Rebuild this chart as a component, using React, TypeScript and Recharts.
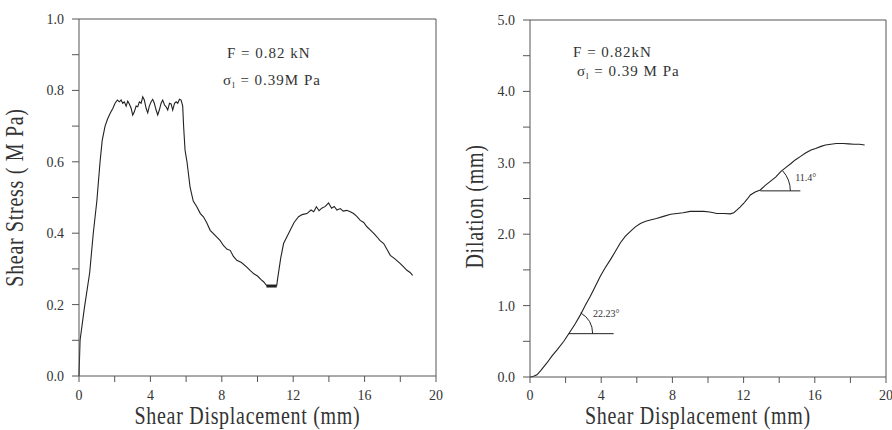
import React from "react";
import { LineChart, Line, XAxis, YAxis, ReferenceLine, ReferenceDot } from "recharts";

const SERIF = "'Liberation Serif', 'DejaVu Serif', serif";

// left panel: shear stress vs shear displacement
const stressX = [
  0, 0.06, 0.3, 0.6, 0.8, 1.0, 1.18, 1.3, 1.46, 1.6, 1.74, 1.9,
  2.02, 2.15, 2.26, 2.36, 2.45, 2.54, 2.64, 2.73, 2.82, 2.92, 3.01, 3.1, 3.2, 3.29, 3.38, 3.48,
  3.57, 3.66, 3.76, 3.85, 3.94, 4.04, 4.13, 4.22, 4.32, 4.41, 4.5, 4.6, 4.69, 4.79, 4.88, 4.97,
  5.07, 5.16, 5.25, 5.35, 5.44, 5.53, 5.63, 5.72, 5.81,
  5.86, 5.94, 6.05, 6.22, 6.4, 6.6, 6.8, 6.97, 7.15, 7.35, 7.6, 7.9, 8.1, 8.3, 8.47, 8.65, 8.84,
  9.1, 9.4, 9.6, 9.78, 10.0, 10.2, 10.34, 10.5, 10.8, 11.08,
  11.12, 11.3, 11.46, 11.65, 11.83, 12.05, 12.3, 12.5, 12.77, 13.0, 13.15, 13.3, 13.45, 13.6,
  13.8, 13.98, 14.15, 14.3, 14.45, 14.64, 14.8, 15.0, 15.2, 15.38, 15.55, 15.76, 15.95, 16.13,
  16.3, 16.5, 16.69, 16.85, 17.07, 17.25, 17.44, 17.7, 18.0, 18.2, 18.37, 18.55, 18.69,
];
const stressY = [
  0, 0.1, 0.19, 0.29, 0.4, 0.49, 0.6, 0.66, 0.7, 0.72, 0.735, 0.75,
  0.764, 0.773, 0.768, 0.773, 0.764, 0.768, 0.756, 0.77, 0.762, 0.75, 0.731, 0.74, 0.756, 0.754, 0.768, 0.764,
  0.782, 0.773, 0.75, 0.737, 0.756, 0.768, 0.775, 0.764, 0.745, 0.731, 0.745, 0.764, 0.773, 0.759, 0.754, 0.745,
  0.764, 0.762, 0.745, 0.764, 0.768, 0.764, 0.775, 0.773, 0.756,
  0.7, 0.633, 0.6, 0.53, 0.49, 0.474, 0.455, 0.446, 0.43, 0.408, 0.395, 0.38, 0.365, 0.355, 0.352, 0.335, 0.324,
  0.318, 0.305, 0.295, 0.287, 0.28, 0.27, 0.264, 0.254, 0.252, 0.254,
  0.27, 0.33, 0.371, 0.39, 0.408, 0.43, 0.446, 0.452, 0.455, 0.465, 0.46, 0.474, 0.463, 0.47,
  0.475, 0.485, 0.47, 0.475, 0.465, 0.469, 0.462, 0.464, 0.46, 0.455, 0.448, 0.436, 0.43, 0.418,
  0.41, 0.4, 0.39, 0.38, 0.371, 0.355, 0.338, 0.328, 0.315, 0.305, 0.296, 0.29, 0.282,
];

// right panel: dilation vs shear displacement
const dilX = [
  0, 0.2, 0.39, 0.6, 0.96, 1.25, 1.52, 1.9, 2.27, 2.55, 2.83, 3.1, 3.39, 3.65, 3.95, 4.2, 4.51, 4.8,
  5.08, 5.35, 5.64, 5.9, 6.2, 6.5, 6.76, 7.1, 7.5, 7.9, 8.26, 8.6, 9.0, 9.4, 9.76, 10.1, 10.5, 10.9,
  11.25, 11.45, 11.63, 11.8, 12.0, 12.2, 12.38, 12.65, 12.94, 13.2, 13.5, 13.8, 14.1, 14.4, 14.66,
  14.9, 15.2, 15.5, 15.79, 16.05, 16.35, 16.6, 16.9, 17.2, 17.6, 17.9, 18.2, 18.5, 18.8,
];
const dilY = [
  0, 0.01, 0.03, 0.09, 0.2, 0.3, 0.38, 0.5, 0.64, 0.75, 0.87, 1.0, 1.13, 1.26, 1.41, 1.52, 1.64, 1.76,
  1.88, 1.97, 2.04, 2.1, 2.15, 2.18, 2.2, 2.22, 2.25, 2.28, 2.29, 2.3, 2.32, 2.32, 2.32, 2.31, 2.29, 2.29,
  2.285, 2.3, 2.34, 2.38, 2.43, 2.49, 2.55, 2.59, 2.62, 2.68, 2.74, 2.8, 2.88, 2.94, 2.99,
  3.04, 3.09, 3.14, 3.18, 3.2, 3.23, 3.25, 3.26, 3.27, 3.27, 3.265, 3.26, 3.26, 3.25,
];

const xTicks = [0, 2, 4, 6, 8, 10, 12, 14, 16, 18, 20];
const stressTicks = [0, 0.1, 0.2, 0.3, 0.4, 0.5, 0.6, 0.7, 0.8, 0.9, 1.0];
const dilTicks = [0, 0.5, 1, 1.5, 2, 2.5, 3, 3.5, 4, 4.5, 5];

const stressData = stressX.map((x, i) => ({ x, y: stressY[i] }));
const dilData = dilX.map((x, i) => ({ x, y: dilY[i] }));

const tickStyle = { fontFamily: SERIF, fontSize: 14, fill: "#333" };
const AXIS = "#555";
const INK = "#222";

const xTitle = (dy: number) => (props: any) => {
  const { x, y, width } = props.viewBox;
  return (
    <text
      transform={`translate(${x + width / 2 - 10},${y + dy}) scale(1,1.22)`}
      textAnchor="middle"
      fontFamily={SERIF}
      fontSize={20}
      letterSpacing={0.7}
      fill="#333"
    >
      Shear Displacement (mm)
    </text>
  );
};

const yTitle = (text: string, bx: number, off: number) => (props: any) => {
  const { x, y, height } = props.viewBox;
  return (
    <text
      transform={`translate(${x + bx},${y + height / 2 + off}) rotate(-90) scale(1,1.22)`}
      textAnchor="middle"
      fontFamily={SERIF}
      fontSize={20}
      letterSpacing={0.7}
      fill="#333"
    >
      {text}
    </text>
  );
};

const note = (content: React.ReactNode, size = 15) => (p: any) => (
  <text x={p.cx} y={p.cy} dy={size * 0.35} fontFamily={SERIF} fontSize={size} letterSpacing={size > 12 ? 1 : 0} fill="#333">
    {content}
  </text>
);

const sigma = (rest: string) => (
  <>
    <tspan>σ</tspan>
    <tspan fontSize={9} dy={3}>l</tspan>
    <tspan dy={-3}>{rest}</tspan>
  </>
);

const arc = (r: number, deg: number) => (p: any) => {
  const a = (deg * Math.PI) / 180;
  const ex = p.cx + r * Math.cos(a);
  const ey = p.cy - r * Math.sin(a);
  return <path d={`M${p.cx + r},${p.cy} A${r},${r} 0 0 0 ${ex},${ey}`} fill="none" stroke={INK} strokeWidth={1} />;
};

export default function App() {
  return (
    <div style={{ position: "absolute", left: 0, top: 0, width: 892, height: 430, background: "#fff" }}>
      <div style={{ position: "absolute", left: 0, top: 0 }}>
        <LineChart width={446} height={430} data={stressData} margin={{ top: 19, right: 10, bottom: 24, left: 0 }}>
          <XAxis
            type="number"
            dataKey="x"
            domain={[0, 20]}
            ticks={xTicks}
            interval={0}
            tickFormatter={(v: number) => (v % 4 === 0 ? String(v) : "")}
            tickSize={6}
            tickMargin={8}
            stroke={AXIS}
            tick={tickStyle}
            height={30}
            label={{ content: xTitle(48) }}
          />
          <YAxis
            type="number"
            domain={[0, 1]}
            ticks={stressTicks}
            interval={0}
            tickFormatter={(v: number) => (Math.round(v * 10) % 2 === 0 ? v.toFixed(1) : "")}
            tickSize={7}
            tickMargin={8}
            stroke={AXIS}
            tick={tickStyle}
            width={79}
            label={{ content: yTitle("Shear Stress ( M Pa)", 23, 0) }}
          />
          <ReferenceLine y={1} stroke={AXIS} />
          <ReferenceLine x={20} stroke={AXIS} />
          <ReferenceLine segment={[{ x: 10.5, y: 0.252 }, { x: 11.08, y: 0.252 }]} stroke={INK} strokeWidth={3} />
          <Line type="linear" dataKey="y" stroke={INK} strokeWidth={1.1} dot={false} isAnimationActive={false} />
          <ReferenceDot x={8.29} y={0.905} r={0} shape={note("F = 0.82 kN")} />
          <ReferenceDot x={8.07} y={0.829} r={0} shape={note(sigma(" = 0.39M Pa"))} />
        </LineChart>
      </div>
      <div style={{ position: "absolute", left: 446, top: 0 }}>
        <LineChart width={446} height={430} data={dilData} margin={{ top: 20, right: 6, bottom: 23, left: 0 }}>
          <XAxis
            type="number"
            dataKey="x"
            domain={[0, 20]}
            ticks={xTicks}
            interval={0}
            tickFormatter={(v: number) => (v % 4 === 0 ? String(v) : "")}
            tickSize={6}
            tickMargin={7}
            stroke={AXIS}
            tick={tickStyle}
            height={30}
            label={{ content: xTitle(47) }}
          />
          <YAxis
            type="number"
            domain={[0, 5]}
            ticks={dilTicks}
            interval={0}
            tickFormatter={(v: number) => (Number.isInteger(v) ? v.toFixed(1) : "")}
            tickSize={7}
            tickMargin={8}
            stroke={AXIS}
            tick={tickStyle}
            width={84}
            label={{ content: yTitle("Dilation (mm)", 37, 8) }}
          />
          <ReferenceLine y={5} stroke={AXIS} />
          <ReferenceLine x={20} stroke={AXIS} />
          <ReferenceLine segment={[{ x: 2.17, y: 0.607 }, { x: 4.7, y: 0.607 }]} stroke={INK} strokeWidth={1} />
          <ReferenceLine segment={[{ x: 12.94, y: 2.607 }, { x: 15.19, y: 2.607 }]} stroke={INK} strokeWidth={1} />
          <Line type="linear" dataKey="y" stroke={INK} strokeWidth={1.1} dot={false} isAnimationActive={false} />
          <ReferenceDot x={2.17} y={0.607} r={0} shape={arc(24, 60)} />
          <ReferenceDot x={12.94} y={2.607} r={0} shape={arc(30, 42)} />
          <ReferenceDot x={3.54} y={0.896} r={0} shape={note("22.23°", 10)} />
          <ReferenceDot x={14.9} y={2.8} r={0} shape={note("11.4°", 10)} />
          <ReferenceDot x={2.42} y={4.55} r={0} shape={note("F = 0.82kN")} />
          <ReferenceDot x={2.64} y={4.29} r={0} shape={note(sigma(" = 0.39 M Pa"))} />
        </LineChart>
      </div>
    </div>
  );
}
